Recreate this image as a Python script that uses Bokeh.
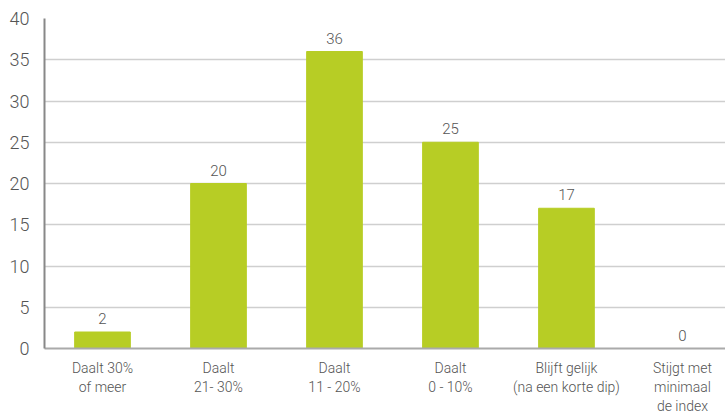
from bokeh.plotting import figure
from bokeh.models import Range1d, FixedTicker, ColumnDataSource
from bokeh.core.properties import value
from bokeh.embed import file_html
from bokeh.resources import INLINE

categories = ["Daalt 30%\nof meer", "Daalt\n21- 30%", "Daalt\n11 - 20%", "Daalt\n0 - 10%",
              "Blijft gelijk\n(na een korte dip)", "Stijgt met\nminimaal\nde index"]
values = [2, 20, 36, 25, 17, 0]
y_ticks = [0, 5, 10, 15, 20, 25, 30, 35, 40]

FONT = "Roboto Light, Roboto"
TXT = "#555555"

xs = list(range(len(categories)))
src = ColumnDataSource(dict(x=xs, top=values, lab=[str(v) for v in values]))

p = figure(width=725, height=416, output_backend="svg", toolbar_location=None,
           x_range=Range1d(-0.5, 5.371), y_range=Range1d(0, 40),
           min_border_left=44, min_border_right=0, min_border_top=18, min_border_bottom=67)
p.outline_line_color = None
p.background_fill_color = "white"

p.vbar(x="x", top="top", width=0.48, bottom=0, source=src, color="#b7cd25")
p.text(x="x", y="top", text="lab", source=src, text_align="center", text_baseline="bottom",
       y_offset=-8, text_font=value(FONT), text_font_size="15px", text_color=TXT)

p.xgrid.grid_line_color = None
p.ygrid.grid_line_color = "#cfcfcf"
p.ygrid.grid_line_width = 1.5
p.ygrid.ticker = FixedTicker(ticks=y_ticks)

p.yaxis.ticker = FixedTicker(ticks=y_ticks)
p.yaxis.axis_line_color = "#888888"
p.yaxis.axis_line_width = 2
p.yaxis.major_tick_line_color = None
p.yaxis.minor_tick_line_color = None
p.yaxis.major_label_text_font = FONT
p.yaxis.major_label_text_font_size = "18px"
p.yaxis.major_label_text_color = TXT
p.yaxis.major_label_standoff = 9

p.xaxis.ticker = FixedTicker(ticks=xs)
p.xaxis.major_label_overrides = {i: c for i, c in enumerate(categories)}
p.xaxis.axis_line_color = "#aaaaaa"
p.xaxis.axis_line_width = 2
p.xaxis.major_tick_line_color = None
p.xaxis.minor_tick_line_color = None
p.xaxis.major_label_text_font = FONT
p.xaxis.major_label_text_font_size = "14px"
p.xaxis.major_label_text_color = TXT
p.xaxis.major_label_standoff = 5

open("out.html", "w").write(file_html(p, INLINE))
